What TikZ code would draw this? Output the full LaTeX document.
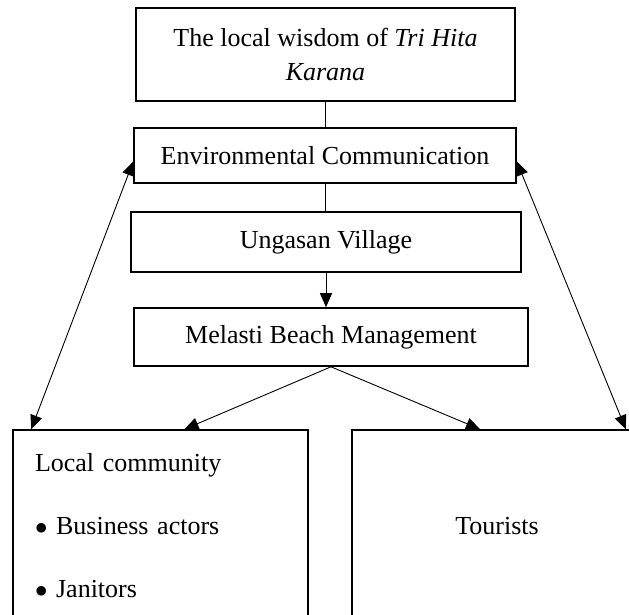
\documentclass[tikz,border=0pt]{standalone}
\usepackage{fontspec}
\setmainfont{Liberation Serif}
\usepackage{tikz}
\usetikzlibrary{arrows.meta}
\usetikzlibrary{positioning}

\begin{document}
\begin{tikzpicture}[x=1pt, y=-1pt,
        >={Triangle[length=14pt,width=12pt]},
        frame/.style={draw, line width=1.6pt, rectangle, align=center, font=\fontsize{26}{34}\selectfont},
        link/.style={line width=0.9pt}]
        \clip (0,0) rectangle (629,614);
        \node[frame, minimum width=379pt, minimum height=93pt] (wisdom) at (325.5,54.5) {The local wisdom of \textit{Tri Hita}\\\textit{Karana}};
        \node[frame, minimum width=382pt, minimum height=55pt] (envcomm) at (325,155.5) {Environmental Communication};
        \node[frame, minimum width=390pt, minimum height=60pt] (village) at (326,242) {Ungasan Village};
        \node[frame, minimum width=394pt, minimum height=58pt] (melasti) at (331,337) {Melasti Beach Management};
        \node[frame, align=left, text width=251pt, inner xsep=22pt, minimum height=192pt,
              font=\fontsize{26}{63}\selectfont] (community) at (160.5,526)
              {Local community\\$\bullet$ Business actors\\$\bullet$ Janitors};
        \node[frame, minimum width=290pt, minimum height=192pt] (tourists) at (497,526) {Tourists};
        \draw[link] (wisdom.south) -- (wisdom.south |- envcomm.north);
        \draw[link] (envcomm.south) -- (envcomm.south |- village.north);
        \draw[link, ->] (village.south) -- (village.south |- melasti.north);
        \draw[link, ->] (melasti.south) -- ([xshift=24pt]community.north);
        \draw[link, ->] (melasti.south) -- ([xshift=-17pt]tourists.north);
        \draw[link, <->] ([yshift=-6pt]envcomm.west) -- ([xshift=19pt]community.north west);
        \draw[link, <->] ([yshift=-6pt]envcomm.east) -- ([xshift=-17pt]tourists.north east);
    \end{tikzpicture}
\end{document}
